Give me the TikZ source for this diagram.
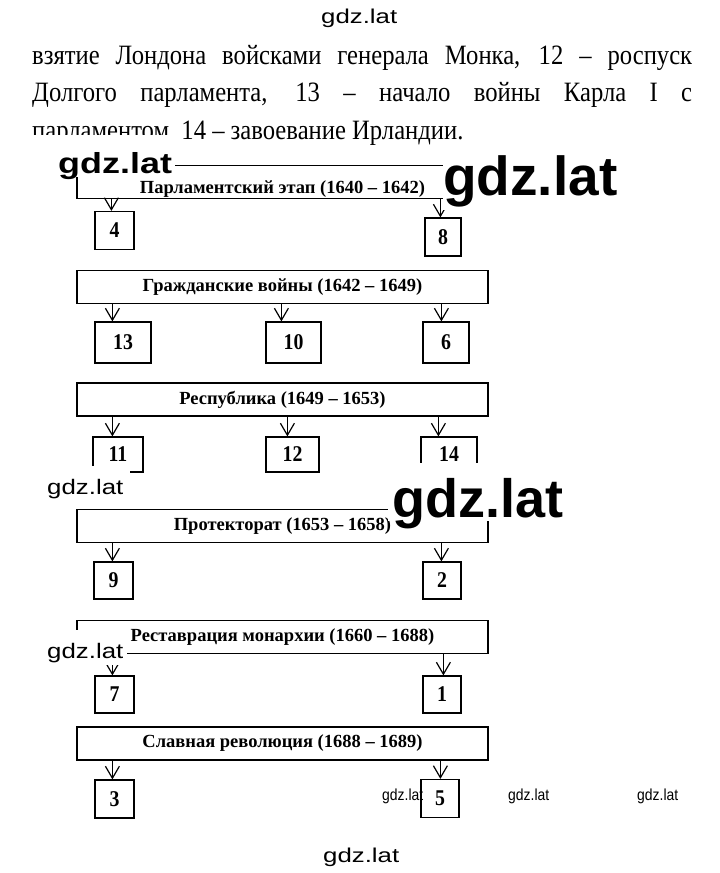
\documentclass[tikz,border=0pt]{standalone}
\usepackage{fontspec}
\setmainfont{Liberation Serif}
\newfontfamily\bodyfont{Liberation Serif}[FakeStretch=0.88]
\newfontfamily\wmfont{Liberation Sans}
\usetikzlibrary{arrows.meta}

\begin{document}
\begin{tikzpicture}[x=1pt,y=-1pt,
  stage/.style={draw,line width=1.2pt,minimum width=411pt,minimum height=33pt,inner sep=0pt,font=\fontsize{18.5}{20}\selectfont\bfseries},
  num/.style={draw,line width=1.2pt,minimum width=39pt,minimum height=38pt,inner sep=0pt,font=\bodyfont\fontsize{22.5}{24}\selectfont\bfseries},
  arr/.style={line width=1.2pt,-{Straight Barb[length=12pt,width=14pt]}},
  txt/.style={anchor=base west,inner sep=0pt,font=\bodyfont\fontsize{28}{30}\selectfont},
  wm/.style={anchor=base west,inner sep=0pt,font=\wmfont\fontsize{#1}{#1}\selectfont}]
\fill[white] (0,0) rectangle (720,873);
\useasboundingbox (0,0) rectangle (720,873);

\node[txt] (l1) at (32,64) {\makebox[660pt][s]{взятие Лондона войсками генерала Монка, 12 – роспуск}};
\node[txt] (l2) at (32,101) {\makebox[660pt][s]{Долгого парламента, 13 – начало войны Карла I с}};
\node[txt] (l3) at (32,139) {парламентом, 14 – завоевание Ирландии.};

\node[stage] (s1) at (282.5,182) {\raisebox{-11pt}[0pt][0pt]{Парламентский этап (1640 – 1642)}};
\node[stage] (s2) at (282.5,287) {Гражданские войны (1642 – 1649)};
\node[stage] (s3) at (282.5,399.5) {Республика (1649 – 1653)};
\node[stage] (s4) at (282.5,526) {Протекторат (1653 – 1658)};
\node[stage] (s5) at (282.5,637) {Реставрация монархии (1660 – 1688)};
\node[stage] (s6) at (282.5,743.5) {Славная революция (1688 – 1689)};

\node[num] (n4) at (114.5,230.5) {4};
\node[num,minimum width=36pt] (n8) at (443,237) {8};
\node[num,minimum width=56pt,minimum height=41pt] (n13) at (123,342.5) {13};
\node[num,minimum width=55pt,minimum height=41pt] (n10) at (293.5,342.5) {10};
\node[num,minimum width=46pt,minimum height=41pt] (n6) at (446,342.5) {6};
\node[num,minimum width=50pt,minimum height=35pt] (n11) at (118,454.5) {11};
\node[num,minimum width=53pt,minimum height=35pt] (n12) at (292.5,454.5) {12};
\node[num,minimum width=56pt,minimum height=35pt] (n14) at (449,454.5) {14};
\node[num,minimum height=37pt] (n9) at (113.5,580.5) {9};
\node[num,minimum width=38pt,minimum height=37pt] (n2) at (442,580.5) {2};
\node[num,minimum height=37pt] (n7) at (114.5,694.5) {7};
\node[num,minimum width=38pt,minimum height=37pt] (n1) at (442,694.5) {1};
\node[num] (n3) at (114.5,799) {3};
\node[num,minimum width=38pt] (n5) at (440,798.5) {5};

\foreach \s/\n/\d in {s1/n4/17, s1/n8/16, s2/n13/18, s2/n10/16, s2/n6/19,
    s3/n11/20, s3/n12/22, s3/n14/18, s4/n9/19, s4/n2/19,
    s5/n7/18, s5/n1/21, s6/n3/18, s6/n5/20}{
  \coordinate (t\n) at ([xshift=\d pt]\n.north west);
  \draw[arr] (\s.south -| t\n) -- (t\n);
}

\fill[white] (30,135) rectangle (175,177);
\fill[white] (443,150) rectangle (625,210);
\fill[white] (40,466) rectangle (130,505);
\fill[white] (388,463) rectangle (570,521);
\fill[white] (40,630) rectangle (127,665);

\node[wm=20] (w1) at (321,23) {\scalebox{1.29}[1]{gdz.lat}};
\node[wm=29] (w2) at (58,173) {\scalebox{1.24}[1]{\bfseries gdz.lat}};
\node[wm=55] (w3) at (443,195) {\bfseries gdz.lat};
\node[wm=21] (w4) at (47,494) {\scalebox{1.23}[1]{gdz.lat}};
\node[wm=54] (w5) at (392,517) {\bfseries gdz.lat};
\node[wm=21] (w6) at (47,658) {\scalebox{1.23}[1]{gdz.lat}};
\node[wm=16] (w7) at (382,800) {\scalebox{0.87}[1]{gdz.lat}};
\node[wm=16] (w8) at (508,800) {\scalebox{0.87}[1]{gdz.lat}};
\node[wm=16] (w9) at (637,800) {\scalebox{0.87}[1]{gdz.lat}};
\node[wm=20] (w10) at (323,862) {\scalebox{1.29}[1]{gdz.lat}};
\end{tikzpicture}
\end{document}
